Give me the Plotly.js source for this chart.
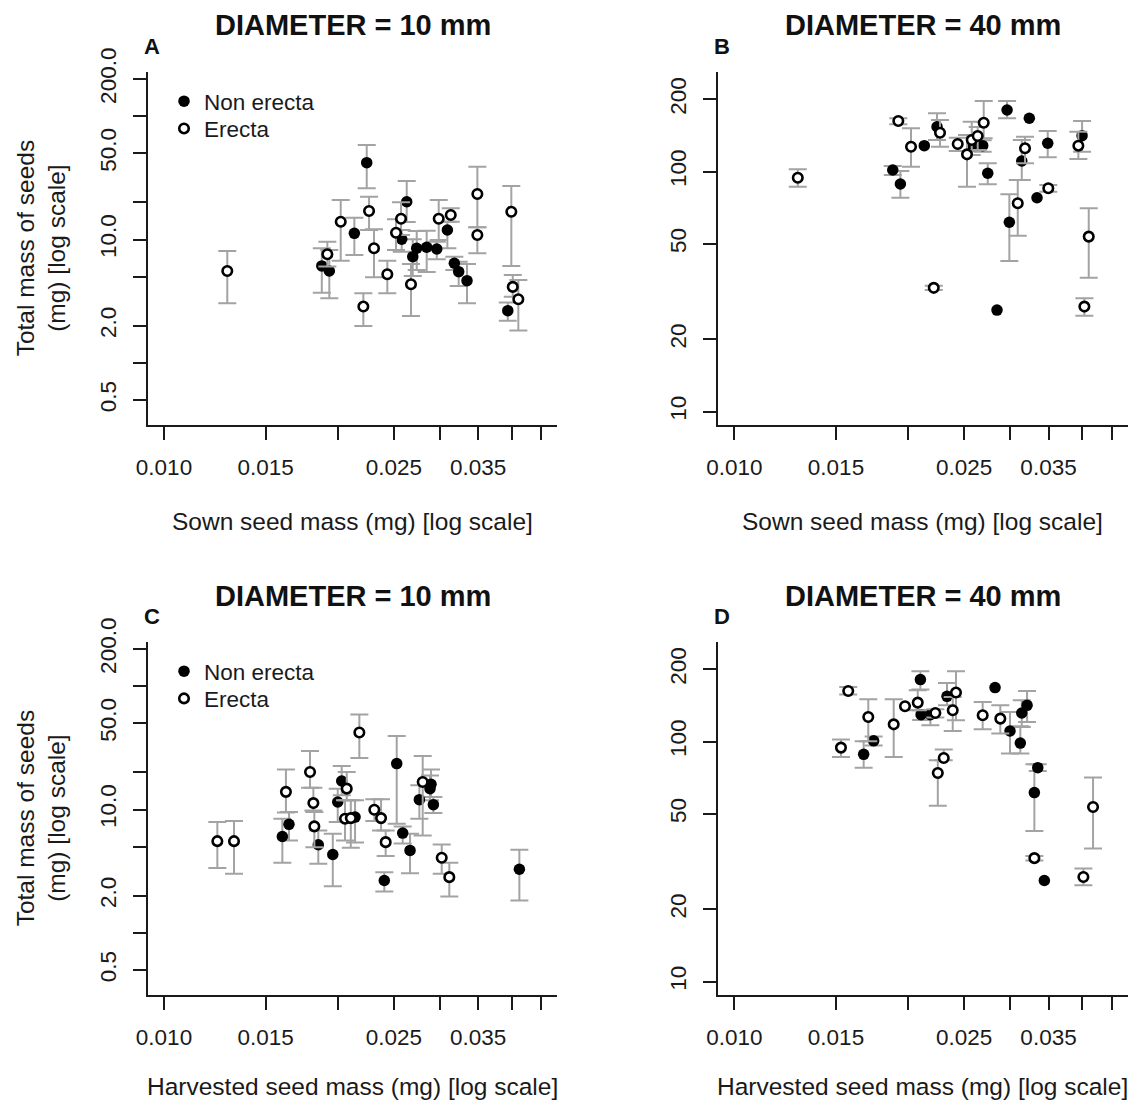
<!DOCTYPE html>
<html>
<head>
<meta charset="utf-8">
<script src="https://cdn.plot.ly/plotly-3.0.1.min.js"></script>
<style>html,body{margin:0;padding:0;background:#fff;}</style>
</head>
<body>
<div id="chart" style="width:1133px;height:1101px;"></div>
<script>
// ---------- Panel A: sown seed mass vs total mass, diameter 10 mm ----------
var A_ne_x  = [0.01876,0.01933,0.02136,0.02244,0.02580,0.02632,0.02696,0.02739,0.02850,0.02967,0.03095,0.03182,0.03238,0.03347,0.03938];
var A_ne_y  = [6.11,5.56,11.23,42.0,10.05,20.26,7.26,8.49,8.65,8.38,11.95,6.42,5.49,4.64,2.65];
var A_ne_hi = [8.49,8.23,15.03,58.4,11.95,29.8,10.05,11.73,11.8,9.61,13.95,7.26,6.61,6.34,3.08];
var A_ne_lo = [3.71,3.34,7.49,26.0,7.97,13.87,5.06,5.67,5.45,6.92,8.49,5.67,4.20,3.04,2.19];

var A_e_x  = [0.01287,0.01918,0.02023,0.02214,0.02265,0.02310,0.02436,0.02522,0.02573,0.02677,0.02990,0.03137,0.03488,0.03488,0.03994,0.04017,0.04107];
var A_e_y  = [5.56,7.60,13.95,2.86,17.03,8.49,5.23,11.36,14.75,4.34,14.75,15.81,23.39,10.89,16.81,4.13,3.28];
var A_e_hi = [8.08,9.61,20.9,3.67,22.25,12.11,6.74,14.59,20.04,6.34,20.9,17.92,38.9,12.57,27.16,5.16,4.70];
var A_e_lo = [3.04,6.03,6.74,1.99,11.95,4.94,3.67,8.23,10.89,2.40,9.92,13.95,12.57,7.74,6.11,3.44,1.83];

// ---------- Panel B: sown seed mass vs total mass, diameter 40 mm ----------
var B_ne_x  = [0.01881,0.01939,0.02133,0.02244,0.02587,0.02692,0.02747,0.02850,0.02967,0.02994,0.03146,0.03242,0.03343,0.03489,0.04001];
var B_ne_y  = [101.5,88.8,128.2,153.8,128.2,128.2,98.4,26.5,180.5,61.5,110.7,166.7,77.8,131.2,141.1];
var B_ne_hi = [105.5,100.5,null,174.9,null,135,108.3,null,196.8,80.4,135.3,null,null,147.6,162.4];
var B_ne_lo = [96.8,77.8,null,135.3,null,121,88.5,null,166.7,42.4,92.2,null,null,114.7,121];

var B_e_x  = [0.01288,0.01923,0.02023,0.02215,0.02271,0.02437,0.02529,0.02577,0.02639,0.02703,0.03096,0.03187,0.03497,0.03942,0.04038,0.04109];
var B_e_y  = [94.3,162.4,126.9,32.8,145.2,130.3,118.0,135.3,140.7,159.8,73.8,125.0,85.2,128.2,27.4,53.6];
var B_e_hi = [102.2,166.7,151.4,33.5,164,138.4,142,161.3,153.5,196.8,92.2,139.7,87.9,146.6,29.7,70.3];
var B_e_lo = [86.5,157.4,104.8,32.1,126.9,121.8,86.5,117.2,123,137.6,54.1,108.3,82.5,112.8,25.1,36.1];

// ---------- Panel C: harvested seed mass vs total mass, diameter 10 mm ----------
var C_ne_x  = [0.01603,0.01646,0.01850,0.01960,0.01999,0.02031,0.02142,0.02407,0.02529,0.02590,0.02667,0.02768,0.02888,0.02900,0.02927,0.04124];
var C_ne_y  = [6.05,7.58,5.18,4.32,11.50,17.03,8.68,2.66,23.58,6.44,4.66,12.03,14.77,16.01,10.95,3.28];
var C_ne_hi = [8.43,9.53,6.77,6.37,14.77,22.54,11.87,3.10,39.5,7.30,6.37,15.71,18.9,21.08,12.63,4.72];
var C_ne_lo = [3.70,5.62,3.63,2.39,7.91,13.03,5.4,2.16,7.68,5.3,3.05,8.43,11.87,12.63,9.36,1.83];

var C_e_x  = [0.01237,0.01322,0.01626,0.01790,0.01814,0.01821,0.02058,0.02072,0.02106,0.02179,0.02313,0.02376,0.02420,0.02805,0.03026,0.03119];
var C_e_y  = [5.54,5.54,13.91,20.15,11.28,7.30,8.43,14.77,8.52,42.1,9.97,8.52,5.44,16.71,4.06,2.83];
var C_e_hi = [7.91,8.06,21.08,29.85,15.05,9.53,11.87,20.15,11.87,58.97,12.09,12.09,6.77,27.19,5.21,3.70];
var C_e_lo = [3.35,3.01,9.48,15.05,9.84,4.95,5.62,11.87,4.90,26.18,8.06,6.77,4.19,6.17,3.01,1.97];

// ---------- Panel D: harvested seed mass vs total mass, diameter 40 mm ----------
var D_ne_x  = [0.01675,0.01743,0.02100,0.02106,0.02185,0.02335,0.02828,0.03002,0.03128,0.03146,0.03213,0.03308,0.03353,0.03442];
var D_ne_y  = [88.5,100.7,181.2,129.5,129.5,154.3,167.8,110.7,98.6,131.5,141.6,61.3,77.9,26.4];
var D_ne_hi = [100.3,104.9,196.2,135,135.0,175.4,null,132.8,115.8,148.6,162.4,80.4,80.4,null];
var D_ne_lo = [77.9,96.4,164.6,123,116.9,141.6,null,89.1,89.1,115.0,120.6,42.4,75.5,null];

var D_e_x  = [0.01530,0.01575,0.01706,0.01888,0.01975,0.02078,0.02229,0.02251,0.02305,0.02389,0.02420,0.02692,0.02888,0.03308,0.04022,0.04180];
var D_e_y  = [94.4,162.4,126.6,118.0,140.3,145.3,131.5,74.0,85.4,135.0,160.0,128.7,124.6,32.7,27.3,53.4];
var D_e_hi = [101.9,168.8,150.0,150.0,null,163.5,136.4,83.6,92.6,153.3,196.2,146.2,141.6,33.4,29.6,70.8];
var D_e_lo = [86.3,156.9,100.3,86.3,null,135.0,126,54.0,83.6,110.7,122.6,112.5,108.0,32.0,25.2,35.9];

// ---------- tick labels ----------
var xTickVals = [0.010,0.015,0.020,0.025,0.030,0.035,0.040,0.045];
var xTickText = ["0.010","0.015","","0.025","","0.035","",""];
var yTickValsSmall = [0.5,1,2,5,10,20,50,100,200];
var yTickTextSmall = ["0.5","","2.0","","10.0","","50.0","","200.0"];
var yTickValsLarge = [10,20,50,100,200];
var yTickTextLarge = ["10","20","50","100","200"];

var seriesNames = ["Non erecta","Erecta"];
var panelTitles = ["DIAMETER = 10 mm","DIAMETER = 40 mm","DIAMETER = 10 mm","DIAMETER = 40 mm"];
var panelLetters = ["A","B","C","D"];
var xTitles = ["Sown seed mass (mg) [log scale]","Sown seed mass (mg) [log scale]","Harvested seed mass (mg) [log scale]","Harvested seed mass (mg) [log scale]"];
var yTitle = "Total mass of seeds<br>(mg) [log scale]";

// ---------- helpers ----------
var FONT = "Liberation Sans, Arial, Helvetica, sans-serif";
var INK = "#1a1a1a";
var W = 1133, H = 1101;
function px(x){ return x / W; }
function py(y){ return 1 - y / H; }

function errBars(y, hi, lo){
  return {
    type: 'data', symmetric: false, visible: true,
    array: hi.map(function(h,i){ return h == null ? NaN : h - y[i]; }),
    arrayminus: lo.map(function(l,i){ return l == null ? NaN : y[i] - l; }),
    color: '#a3a3a3', thickness: 2, width: 9
  };
}
function mk(x, y, hi, lo, filled, xa, ya, legendId, showleg){
  return {
    type: 'scatter', mode: 'markers', x: x, y: y,
    xaxis: xa, yaxis: ya,
    name: filled ? seriesNames[0] : seriesNames[1],
    legend: legendId, showlegend: showleg,
    error_y: errBars(y, hi, lo),
    marker: filled ? {symbol: 'circle', size: 11.5, color: '#000', line: {width: 0}}
                   : {symbol: 'circle', size: 9.5, color: '#fff', line: {width: 2.6, color: '#000'}},
    hoverinfo: 'x+y'
  };
}

var data = [
  mk(A_ne_x, A_ne_y, A_ne_hi, A_ne_lo, true,  'x',  'y',  'legend',  true),
  mk(A_e_x,  A_e_y,  A_e_hi,  A_e_lo,  false, 'x',  'y',  'legend3', true),
  mk(B_ne_x, B_ne_y, B_ne_hi, B_ne_lo, true,  'x2', 'y2', 'legend',  false),
  mk(B_e_x,  B_e_y,  B_e_hi,  B_e_lo,  false, 'x2', 'y2', 'legend3', false),
  mk(C_ne_x, C_ne_y, C_ne_hi, C_ne_lo, true,  'x3', 'y3', 'legend2', true),
  mk(C_e_x,  C_e_y,  C_e_hi,  C_e_lo,  false, 'x3', 'y3', 'legend4', true),
  mk(D_ne_x, D_ne_y, D_ne_hi, D_ne_lo, true,  'x4', 'y4', 'legend2', false),
  mk(D_e_x,  D_e_y,  D_e_hi,  D_e_lo,  false, 'x4', 'y4', 'legend4', false)
];

// plot-region pixel boxes [left, right, top, bottom]
var boxes = [[148,557.3,71.7,425],[718.3,1127.6,71.7,425],[148,557.3,641.7,995],[718.3,1127.6,641.7,995]];

function xAxis(b, anchor){
  return {
    type: 'log', range: [-2.0277, -1.319], domain: [px(b[0]), px(b[1])], anchor: anchor,
    showline: true, linecolor: INK, linewidth: 2, mirror: false,
    ticks: 'outside', ticklen: 13, tickwidth: 2, tickcolor: INK,
    tickmode: 'array', tickvals: xTickVals, ticktext: xTickText,
    tickfont: {family: FONT, size: 22.5, color: INK}, ticklabelstandoff: 8,
    showgrid: false, zeroline: false, automargin: false, fixedrange: true
  };
}
function yAxis(b, anchor, small){
  return {
    type: 'log', range: small ? [-0.504, 2.361] : [0.9446, 2.416],
    domain: [py(b[3]), py(b[2])], anchor: anchor,
    showline: true, linecolor: INK, linewidth: 2, mirror: false,
    ticks: 'outside', ticklen: 13, tickwidth: 2, tickcolor: INK,
    tickmode: 'array', tickvals: small ? yTickValsSmall : yTickValsLarge,
    ticktext: small ? yTickTextSmall : yTickTextLarge, tickangle: -90,
    tickfont: {family: FONT, size: 22.5, color: INK}, ticklabelstandoff: 8,
    showgrid: false, zeroline: false, automargin: false, fixedrange: true
  };
}

var annotations = [];
boxes.forEach(function(b, i){
  var cx = (b[0] + b[1]) / 2;
  annotations.push({xref:'paper', yref:'paper', x: px(cx), y: py(b[2] - 46.2), text: '<b>' + panelTitles[i] + '</b>',
    showarrow:false, xanchor:'center', yanchor:'middle', font:{family:FONT, size:29, color:'#111'}});
  annotations.push({xref:'paper', yref:'paper', x: px(b[0] + 4), y: py(b[2] - 25.6), text: '<b>' + panelLetters[i] + '</b>',
    showarrow:false, xanchor:'center', yanchor:'middle', font:{family:FONT, size:22, color:'#111'}});
  annotations.push({xref:'paper', yref:'paper', x: px(cx), y: py(Math.min(b[3] + 96.7, 1086)), text: xTitles[i],
    showarrow:false, xanchor:'center', yanchor:'middle', font:{family:FONT, size:24.5, color:INK}});
  if (i % 2 === 0){
    annotations.push({xref:'paper', yref:'paper', x: px(41), y: py((b[2] + b[3]) / 2), text: yTitle, textangle: -90,
      showarrow:false, xanchor:'center', yanchor:'middle', font:{family:FONT, size:24.5, color:INK}});
  }
});

function legendAt(topPx){
  return {x: px(164), y: py(topPx), xanchor:'left', yanchor:'top', bgcolor:'rgba(0,0,0,0)',
    borderwidth:0, font:{family:FONT, size:22.5, color:INK}, tracegroupgap:0, itemclick:false, itemdoubleclick:false};
}

var layout = {
  width: W, height: H,
  margin: {l:0, r:0, t:0, b:0, pad:0},
  paper_bgcolor: '#fff', plot_bgcolor: '#fff',
  font: {family: FONT, color: INK},
  showlegend: true,
  xaxis: xAxis(boxes[0], 'y'),   yaxis: yAxis(boxes[0], 'x', true),
  xaxis2: xAxis(boxes[1], 'y2'), yaxis2: yAxis(boxes[1], 'x2', false),
  xaxis3: xAxis(boxes[2], 'y3'), yaxis3: yAxis(boxes[2], 'x3', true),
  xaxis4: xAxis(boxes[3], 'y4'), yaxis4: yAxis(boxes[3], 'x4', false),
  legend:  legendAt(80),
  legend3: legendAt(107.3),
  legend2: legendAt(80 + 570),
  legend4: legendAt(107.3 + 570),
  annotations: annotations
};

Plotly.newPlot('chart', data, layout, {displayModeBar: false, staticPlot: true});
</script>
</body>
</html>
